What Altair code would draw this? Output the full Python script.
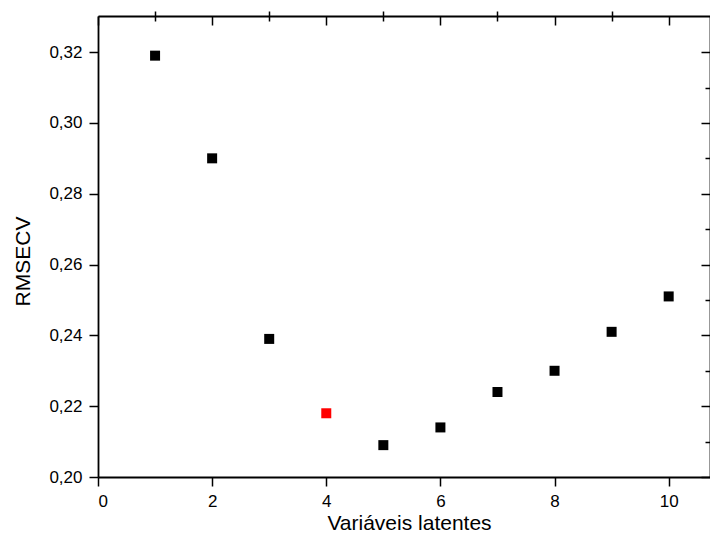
import altair as alt
import pandas as pd

latent = [1, 2, 3, 4, 5, 6, 7, 8, 9, 10]
rmsecv = [0.319, 0.290, 0.239, 0.218, 0.209, 0.214, 0.224, 0.230, 0.241, 0.251]
highlight = ["no", "no", "no", "yes", "no", "no", "no", "no", "no", "no"]

x_major = [0, 2, 4, 6, 8, 10]
x_minor = [1, 3, 5, 7, 9]
y_major = [0.20, 0.22, 0.24, 0.26, 0.28, 0.30, 0.32]
y_minor = [0.21, 0.23, 0.25, 0.27, 0.29, 0.31]

df = pd.DataFrame({"lv": latent, "rmsecv": rmsecv, "hl": highlight})

W, H = 612, 461
FONT = "Liberation Sans"
xs = alt.Scale(domain=[0, 10.724], nice=False, zero=False)
ys = alt.Scale(domain=[0.2, 0.3302], nice=False, zero=False)
lab = "replace(format(datum.value, '.2f'), '.', ',')"

common = dict(grid=False, labelFont=FONT, titleFont=FONT, tickColor="black",
              domainColor="black", labelColor="black", titleColor="black",
              tickWidth=1.5, domainWidth=1.8, titleFontWeight="normal")

def ax(**kw):
    d = dict(common); d.update(kw); return alt.Axis(**d)

base = alt.Chart(df)

pts = base.mark_point(shape="square", filled=True, size=100, opacity=1).encode(
    x=alt.X("lv:Q", scale=xs, title="Variáveis latentes",
            axis=ax(values=x_major, tickSize=9, labelFontSize=17, titleFontSize=21,
                    labelPadding=7, titlePadding=3, titleX=311, format="d")),
    y=alt.Y("rmsecv:Q", scale=ys, title="RMSECV",
            axis=ax(values=y_major, tickSize=9, labelFontSize=17, titleFontSize=21,
                    labelPadding=7, titlePadding=15, titleY=245, labelExpr=lab)),
    color=alt.Color("hl:N", scale=alt.Scale(domain=["no", "yes"], range=["#000000", "#ff0000"]), legend=None),
)

minor = base.mark_point(opacity=0).encode(
    x=alt.X("lv:Q", scale=xs, title=None,
            axis=ax(values=x_minor, tickSize=5, labels=False, domain=False)),
    y=alt.Y("rmsecv:Q", scale=ys, title=None,
            axis=ax(values=y_minor, tickSize=5, labels=False, domain=False)),
)

mirror = base.mark_point(opacity=0).encode(
    x=alt.X("lv:Q", scale=xs, title=None,
            axis=ax(orient="bottom", offset=-H, values=x_major, tickSize=9, labels=False)),
    y=alt.Y("rmsecv:Q", scale=ys, title=None,
            axis=ax(orient="left", offset=-W, values=y_major, tickSize=9, labels=False)),
)

mirror_minor = base.mark_point(opacity=0).encode(
    x=alt.X("lv:Q", scale=xs, title=None,
            axis=ax(orient="bottom", offset=-H, values=x_minor, tickSize=5, labels=False, domain=False)),
    y=alt.Y("rmsecv:Q", scale=ys, title=None,
            axis=ax(orient="left", offset=-W, values=y_minor, tickSize=5, labels=False, domain=False)),
)

chart = alt.layer(pts, minor, mirror, mirror_minor).resolve_axis(
    x="independent", y="independent"
).properties(
    width=W, height=H,
    autosize=alt.AutoSizeParams(type="none"),
    padding={"left": 90, "top": 8, "right": 0, "bottom": 58},
).configure_view(stroke=None).configure(background="white")

chart.save("out.html", embed_options={"renderer": "svg", "actions": False})
